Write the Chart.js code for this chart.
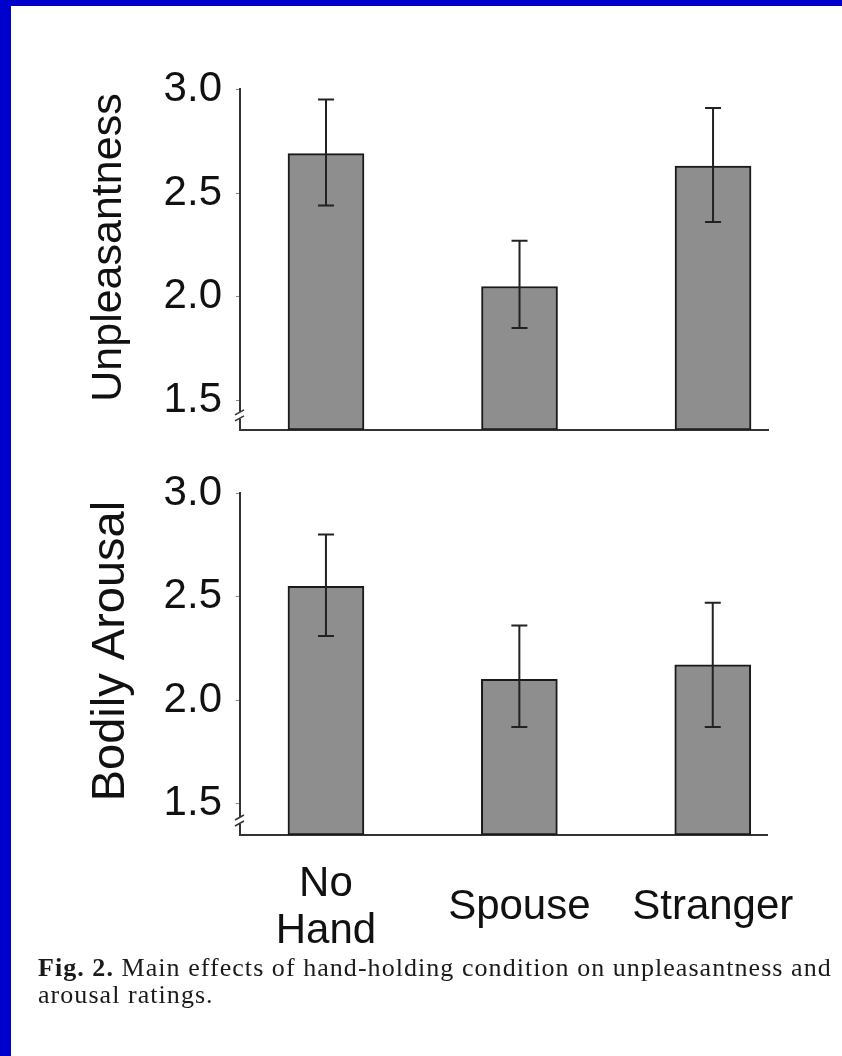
<!DOCTYPE html>
<html><head><meta charset="utf-8">
<script src="https://cdn.jsdelivr.net/npm/chart.js@4.4.0/dist/chart.umd.min.js"></script>
<style>
html,body{margin:0;padding:0;width:842px;height:1056px;overflow:hidden;background:#0000cc;}
#panel{position:absolute;left:11px;top:6px;width:831px;height:1050px;background:#fff;}
canvas{position:absolute;left:0;}
#caption{position:absolute;left:38px;top:954px;font-family:"Liberation Serif","Times New Roman",serif;font-size:26px;letter-spacing:1.05px;line-height:27px;color:#1a1a1a;white-space:nowrap;}
</style></head><body>
<div id="panel"></div>
<canvas id="c1" width="842" height="419" style="top:50px"></canvas>
<canvas id="c2" width="842" height="511" style="top:454px"></canvas>
<div id="caption"><b>Fig. 2.</b> Main effects of hand-holding condition on unpleasantness and<br>arousal ratings.</div>
<script>
// ---- data ----
const categories = [["No","Hand"], "Spouse", "Stranger"];
const yTickValues = [1.5, 2.0, 2.5, 3.0];

const unpleasantMean = [2.69, 2.05, 2.63];
const unpleasantHigh = [2.95, 2.27, 2.91];
const unpleasantLow  = [2.44, 1.85, 2.36];

const arousalMean = [2.55, 2.10, 2.17];
const arousalHigh = [2.80, 2.36, 2.47];
const arousalLow  = [2.31, 1.87, 1.87];

const FONT = '"Liberation Sans", Arial, sans-serif';

const errorBars = {
  id: 'errorBars',
  afterDatasetsDraw(chart, args, opts) {
    const {ctx, scales:{x, y}} = chart;
    ctx.save();
    ctx.strokeStyle = '#222';
    ctx.lineWidth = 2;
    opts.high.forEach((hi, i) => {
      const px = x.getPixelForValue(i);
      const yh = y.getPixelForValue(hi);
      const yl = y.getPixelForValue(opts.low[i]);
      ctx.beginPath();
      ctx.moveTo(px, yh); ctx.lineTo(px, yl);
      ctx.moveTo(px - 8, yh); ctx.lineTo(px + 8, yh);
      ctx.moveTo(px - 8, yl); ctx.lineTo(px + 8, yl);
      ctx.stroke();
    });
    ctx.restore();
  }
};

const axisBreak = {
  id: 'axisBreak',
  afterDraw(chart) {
    const {ctx, scales:{y}} = chart;
    const ax = y.right;
    const yb = y.bottom - 14;
    ctx.save();
    ctx.fillStyle = '#fff';
    ctx.fillRect(ax - 3, yb - 4, 6, 7);
    ctx.strokeStyle = '#333';
    ctx.lineWidth = 1.5;
    ctx.beginPath();
    ctx.moveTo(ax - 5, yb - 1); ctx.lineTo(ax + 4, yb - 6);
    ctx.moveTo(ax - 5, yb + 5); ctx.lineTo(ax + 4, yb);
    ctx.stroke();
    ctx.restore();
  }
};

function makeChart(id, title, titleSize, means, hi, lo, yMin, showX) {
  return new Chart(document.getElementById(id), {
    type: 'bar',
    data: {
      datasets: [{
        data: means.map((v, i) => ({x: i, y: v})),
        backgroundColor: '#8e8e8e',
        borderColor: '#1a1a1a',
        borderWidth: 2,
        borderSkipped: false,
        barThickness: 76,
        base: yMin
      }]
    },
    options: {
      responsive: false,
      animation: false,
      events: [],
      layout: {padding: {top: 30, right: 74, bottom: showX ? 0 : 10, left: 0}},
      plugins: {legend: {display: false}, tooltip: {enabled: false},
        errorBars: {high: hi, low: lo}},
      scales: {
        x: {
          type: 'linear',
          offset: false,
          min: -0.4444, max: 2.284,
          afterBuildTicks: s => { s.ticks = categories.map((c, i) => ({value: i})); },
          afterFit: s => { s.height = showX ? 130 : 4; },
          grid: {display: false},
          border: {display: true, color: '#333', width: 2},
          ticks: {
            display: showX,
            autoSkip: false,
            maxRotation: 0,
            padding: 41,
            crossAlign: 'center',
            color: '#111',
            font: {family: FONT, size: 42, lineHeight: 1.12},
            callback: v => categories[v]
          }
        },
        y: {
          min: yMin, max: 3.0,
          afterBuildTicks: s => { s.ticks = yTickValues.map(v => ({value: v})); },
          afterFit: s => { s.width = 240; },
          grid: {drawOnChartArea: false, drawTicks: true, tickLength: 4, color: '#888'},
          border: {display: true, color: '#333', width: 2},
          ticks: {
            padding: 14,
            color: '#111',
            font: {family: FONT, size: 42},
            callback: v => v.toFixed(1)
          },
          title: {
            display: true, text: title, color: '#111',
            padding: {top: 83, bottom: 0},
            font: {family: FONT, size: titleSize}
          }
        }
      }
    },
    plugins: [errorBars, axisBreak]
  });
}

makeChart('c1', '  Unpleasantness', 43, unpleasantMean, unpleasantHigh, unpleasantLow, 1.36, false);
makeChart('c2', '  Bodily Arousal', 47, arousalMean, arousalHigh, arousalLow, 1.348, true);
</script>
</body></html>
